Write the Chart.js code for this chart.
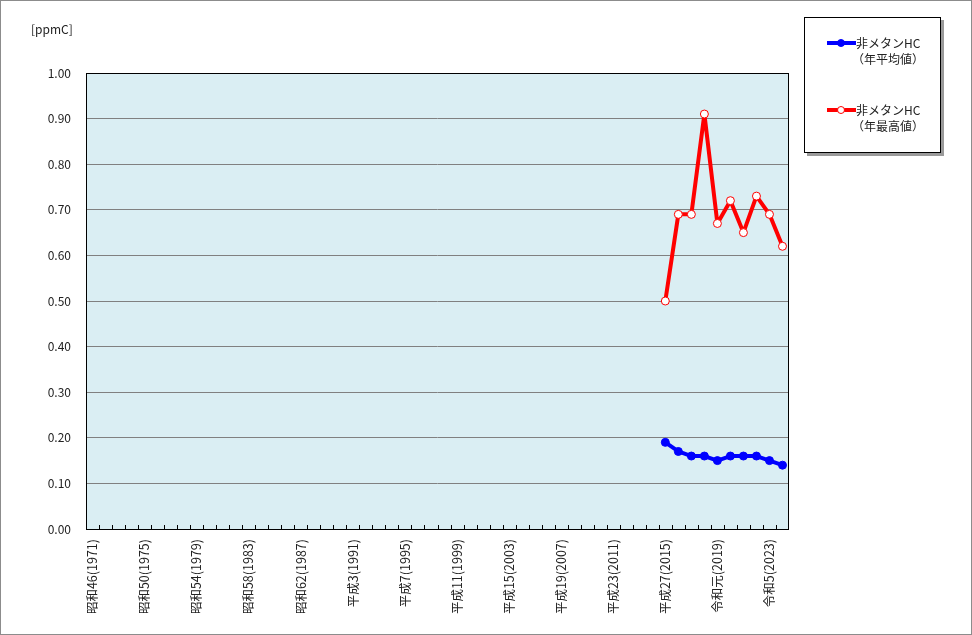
<!DOCTYPE html>
<html>
<head>
<meta charset="utf-8">
<script src="https://cdn.jsdelivr.net/npm/chart.js"></script>
<style>
  html, body { margin: 0; padding: 0; background: #fff; }
  #wrap { width: 972px; height: 635px; position: relative; }
</style>
</head>
<body>
<div id="wrap"><canvas id="chart" width="972" height="635"></canvas></div>
<script>
// 年度ラベル (昭和46 〜 令和6)
const yearLabels = [
  "昭和46(1971)", "昭和47(1972)", "昭和48(1973)", "昭和49(1974)", "昭和50(1975)",
  "昭和51(1976)", "昭和52(1977)", "昭和53(1978)", "昭和54(1979)", "昭和55(1980)",
  "昭和56(1981)", "昭和57(1982)", "昭和58(1983)", "昭和59(1984)", "昭和60(1985)",
  "昭和61(1986)", "昭和62(1987)", "昭和63(1988)", "平成元(1989)", "平成2(1990)",
  "平成3(1991)", "平成4(1992)", "平成5(1993)", "平成6(1994)", "平成7(1995)",
  "平成8(1996)", "平成9(1997)", "平成10(1998)", "平成11(1999)", "平成12(2000)",
  "平成13(2001)", "平成14(2002)", "平成15(2003)", "平成16(2004)", "平成17(2005)",
  "平成18(2006)", "平成19(2007)", "平成20(2008)", "平成21(2009)", "平成22(2010)",
  "平成23(2011)", "平成24(2012)", "平成25(2013)", "平成26(2014)", "平成27(2015)",
  "平成28(2016)", "平成29(2017)", "平成30(2018)", "令和元(2019)", "令和2(2020)",
  "令和3(2021)", "令和4(2022)", "令和5(2023)", "令和6(2024)"
];

// 測定開始年度 (平成27)
const firstDataLabel = "平成27(2015)";

// 非メタンHC 年平均値
const avgValues = [0.19, 0.17, 0.16, 0.16, 0.15, 0.16, 0.16, 0.16, 0.15, 0.14];
// 非メタンHC 年最高値
const maxValues = [0.50, 0.69, 0.69, 0.91, 0.67, 0.72, 0.65, 0.73, 0.69, 0.62];

const yTicks = [0, 0.1, 0.2, 0.3, 0.4, 0.5, 0.6, 0.7, 0.8, 0.9, 1.0];

const FONT = "'Noto Sans CJK JP', 'Noto Sans', sans-serif";
const startIdx = yearLabels.indexOf(firstDataLabel);

function pad(values) {
  return yearLabels.map((l, i) => (i < startIdx ? null : values[i - startIdx]));
}

const frame = {
  id: "frame",
  beforeDraw(chart) {
    const { ctx, chartArea: a } = chart;
    ctx.save();
    ctx.fillStyle = "#DAEEF3";
    ctx.fillRect(a.left, a.top, a.right - a.left, a.bottom - a.top);
    ctx.restore();
  },
  afterDatasetsDraw(chart) {
    const { ctx, chartArea: a } = chart;
    const xs = chart.scales.x;
    ctx.save();
    ctx.strokeStyle = "#000";
    ctx.lineWidth = 1;
    ctx.strokeRect(Math.round(a.left) + 0.5, Math.round(a.top) + 0.5,
      Math.round(a.right - a.left) - 1, Math.round(a.bottom - a.top));
    // inner ticks between categories
    const step = (xs.right - xs.left) / yearLabels.length;
    ctx.beginPath();
    for (let i = 1; i < yearLabels.length; i++) {
      const px = Math.round(xs.left + i * step) + 0.5;
      ctx.moveTo(px, a.bottom);
      ctx.lineTo(px, a.bottom - 4);
    }
    ctx.stroke();
    ctx.restore();
  },
  afterDraw(chart) {
    const { ctx } = chart;
    ctx.save();
    // unit label
    ctx.fillStyle = "#222";
    ctx.font = "12px " + FONT;
    ctx.textBaseline = "middle";
    ctx.fillText("[ppmC]", 31, 29);

    // legend box with shadow
    ctx.fillStyle = "#9a9a9a";
    ctx.fillRect(807, 20, 137, 136);
    ctx.fillStyle = "#fff";
    ctx.fillRect(804, 17, 137, 136);
    ctx.strokeStyle = "#000";
    ctx.lineWidth = 1;
    ctx.strokeRect(804.5, 17.5, 136, 135);

    const items = [
      { y: 43, color: "#0000FF", fill: "#0000FF", name: "（年平均値）" },
      { y: 110, color: "#FF0000", fill: "#FFFFFF", name: "（年最高値）" },
    ];
    items.forEach((it) => {
      ctx.strokeStyle = it.color;
      ctx.lineWidth = 4;
      ctx.beginPath();
      ctx.moveTo(827, it.y);
      ctx.lineTo(856, it.y);
      ctx.stroke();
      ctx.beginPath();
      ctx.arc(841, it.y, 3.5, 0, Math.PI * 2);
      ctx.fillStyle = it.fill;
      ctx.fill();
      ctx.lineWidth = 1;
      ctx.stroke();
      ctx.fillStyle = "#222";
      ctx.font = "12px " + FONT;
      ctx.fillText("非メタンHC", 856, it.y);
      ctx.fillText(it.name, 852, it.y + 16);
    });

    // outer border
    ctx.strokeStyle = "#8c8c8c";
    ctx.lineWidth = 1;
    ctx.strokeRect(0.5, 0.5, 971, 634);
    ctx.restore();
  },
};

new Chart(document.getElementById("chart"), {
  type: "line",
  data: {
    labels: yearLabels,
    datasets: [
      {
        label: "非メタンHC（年平均値）",
        data: pad(avgValues),
        borderColor: "#0000FF",
        backgroundColor: "#0000FF",
        borderWidth: 4,
        borderJoinStyle: "round",
        pointRadius: 4,
        pointBorderWidth: 1,
        pointBackgroundColor: "#0000FF",
        tension: 0,
      },
      {
        label: "非メタンHC（年最高値）",
        data: pad(maxValues),
        borderColor: "#FF0000",
        backgroundColor: "#FF0000",
        borderWidth: 4,
        borderJoinStyle: "round",
        pointRadius: 4,
        pointBorderWidth: 1,
        pointBackgroundColor: "#FFFFFF",
        tension: 0,
      },
    ],
  },
  options: {
    responsive: false,
    animation: false,
    layout: { padding: { left: 0, top: 73, right: 183, bottom: 0 } },
    plugins: { legend: { display: false }, tooltip: { enabled: false } },
    scales: {
      x: {
        offset: true,
        grid: { display: false, offset: true },
        border: { display: false },
        ticks: {
          autoSkip: false,
          maxRotation: 90,
          minRotation: 90,
          padding: 2,
          color: "#222",
          font: { family: FONT, size: 12.5 },
          callback: (v, i) => (i % 4 === 0 ? yearLabels[i] : ""),
        },
        afterFit: (s) => { s.height = 106; },
      },
      y: {
        min: 0,
        max: 1,
        afterBuildTicks: (s) => { s.ticks = yTicks.map((v) => ({ value: v })); },
        grid: { color: "#808080", lineWidth: 1, drawTicks: false },
        border: { display: false },
        ticks: {
          padding: 15,
          color: "#222",
          font: { family: FONT, size: 12 },
          callback: (v) => Number(v).toFixed(2),
        },
        afterFit: (s) => { s.width = 86; },
      },
    },
  },
  plugins: [frame],
});
</script>
</body>
</html>
